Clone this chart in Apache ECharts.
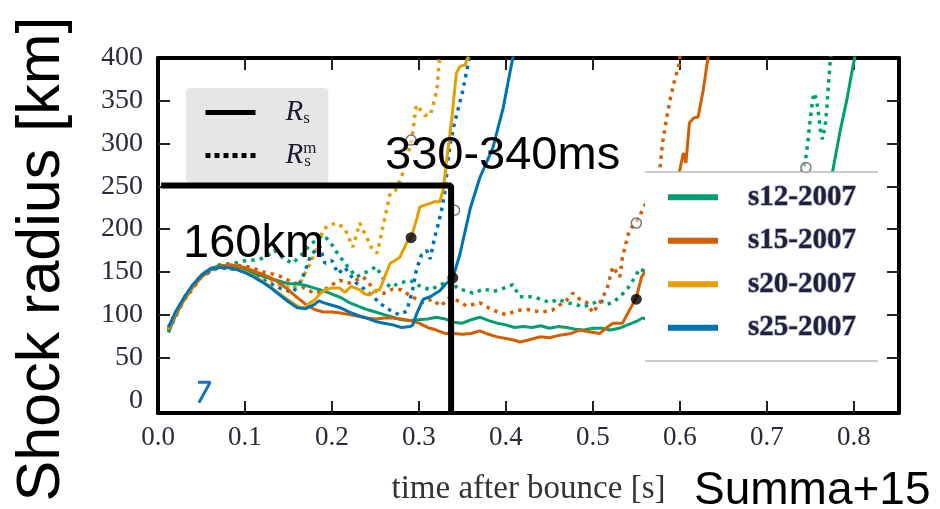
<!DOCTYPE html>
<html><head><meta charset="utf-8">
<script src="https://cdn.jsdelivr.net/npm/echarts@6/dist/echarts.min.js"></script>
<style>html,body{margin:0;padding:0;background:#fff}#c{width:940px;height:509px}</style>
</head><body><div id="c"></div>
<script>
// ---- data (time after bounce [s], shock radius [km]) ----
const xTickLabels = [0, 0.1, 0.2, 0.3, 0.4, 0.5, 0.6, 0.7, 0.8];
const xTickMarks = [0.1, 0.2, 0.3, 0.4, 0.5, 0.6, 0.7, 0.8];
const yTickLabels = [0, 50, 100, 150, 200, 250, 300, 350, 400];
const yTickMarks = [50, 100, 150, 200, 250, 300, 350];
const models = ['s12-2007', 's15-2007', 's20-2007', 's25-2007'];

const s12_Rs = [[0.012,79],[0.02,99],[0.03,118],[0.04,134],[0.05,146],[0.06,154],[0.07,157],[0.08,157],[0.09,155],[0.10,152],[0.11,148],[0.12,145],[0.13,142],[0.14,139],[0.15,136],[0.16,136],[0.17,134],[0.18,131],[0.19,128],[0.20,124],[0.21,120],[0.22,114],[0.23,110],[0.24,106],[0.25,103],[0.26,100],[0.27,97],[0.28,94],[0.29,93],[0.30,94],[0.31,95],[0.32,97],[0.33,95],[0.34,91],[0.35,90],[0.36,94],[0.37,97],[0.38,93],[0.39,90],[0.40,88],[0.41,85],[0.42,86],[0.43,85],[0.44,87],[0.45,84],[0.46,86],[0.47,85],[0.48,83],[0.49,82],[0.50,84],[0.51,84],[0.52,82],[0.53,84],[0.54,88],[0.55,92],[0.557,96],[0.565,94],[0.60,100],[0.65,115],[0.70,140],[0.74,190],[0.77,250],[0.776,269],[0.784,313],[0.792,351],[0.799,390],[0.803,410]];
const s15_Rs = [[0.012,82],[0.02,100],[0.03,117],[0.04,132],[0.05,144],[0.06,152],[0.07,156],[0.08,158],[0.09,157],[0.10,155],[0.11,151],[0.12,147],[0.13,143],[0.14,137],[0.15,129],[0.16,120],[0.17,112],[0.18,106],[0.19,103],[0.20,103],[0.21,102],[0.22,100],[0.23,98],[0.24,96],[0.25,95],[0.26,96],[0.27,96],[0.28,95],[0.29,93],[0.30,90],[0.31,85],[0.32,82],[0.33,78],[0.34,78],[0.35,77],[0.36,78],[0.37,81],[0.38,77],[0.39,74],[0.40,72],[0.41,70],[0.416,68],[0.425,70],[0.439,74],[0.45,73],[0.462,76],[0.475,78],[0.485,82],[0.495,80],[0.508,78],[0.515,84],[0.523,90],[0.534,90],[0.542,105],[0.55,120],[0.556,144],[0.56,150],[0.57,170],[0.58,200],[0.59,240],[0.597,262],[0.60,269],[0.604,289],[0.607,277],[0.611,324],[0.616,330],[0.621,331],[0.627,363],[0.632,398],[0.634,410]];
const s20_Rs = [[0.012,83],[0.02,102],[0.03,119],[0.04,134],[0.05,146],[0.06,153],[0.07,155],[0.08,155],[0.09,153],[0.10,150],[0.11,145],[0.12,139],[0.13,132],[0.14,124],[0.15,117],[0.16,110],[0.165,108],[0.17,109],[0.175,114],[0.18,117],[0.186,124],[0.192,129],[0.20,131],[0.209,131],[0.215,126],[0.222,133],[0.232,129],[0.238,124],[0.244,123],[0.25,128],[0.255,129],[0.259,140],[0.267,160],[0.272,163],[0.278,167],[0.286,184],[0.291,190],[0.297,210],[0.301,226],[0.307,228],[0.313,230],[0.318,232],[0.324,232],[0.328,246],[0.332,281],[0.338,331],[0.343,382],[0.347,390],[0.353,392],[0.356,400],[0.359,410]];
const s25_Rs = [[0.012,85],[0.02,103],[0.03,120],[0.04,135],[0.05,146],[0.06,153],[0.07,155],[0.08,155],[0.09,153],[0.10,149],[0.11,144],[0.12,138],[0.13,131],[0.14,123],[0.15,115],[0.16,108],[0.17,107],[0.18,112],[0.185,116],[0.19,114],[0.20,111],[0.21,108],[0.22,103],[0.23,99],[0.24,96],[0.25,92],[0.26,90],[0.27,88],[0.28,85],[0.29,86],[0.293,88],[0.297,100],[0.305,118],[0.313,121],[0.324,128],[0.33,135],[0.336,140],[0.339,143],[0.347,170],[0.359,224],[0.37,260],[0.385,295],[0.397,342],[0.405,385],[0.41,410]];

const s12_Rm = [[0.012,80],[0.03,119],[0.05,147],[0.07,158],[0.088,160],[0.10,163],[0.115,164],[0.125,168],[0.134,175],[0.145,165],[0.155,160],[0.165,170],[0.175,182],[0.19,193],[0.198,185],[0.206,172],[0.215,160],[0.228,144],[0.24,150],[0.251,156],[0.26,140],[0.267,132],[0.278,137],[0.29,140],[0.30,134],[0.313,129],[0.325,135],[0.336,140],[0.345,130],[0.355,128],[0.362,125],[0.375,130],[0.385,127],[0.393,129],[0.408,135],[0.416,121],[0.431,121],[0.44,118],[0.451,114],[0.46,118],[0.47,114],[0.48,112],[0.489,109],[0.50,113],[0.508,117],[0.515,112],[0.523,114],[0.53,120],[0.539,129],[0.546,140],[0.554,154],[0.56,150],[0.60,160],[0.65,180],[0.70,210],[0.73,245],[0.744,277],[0.747,300],[0.749,320],[0.752,345],[0.754,359],[0.757,352],[0.76,331],[0.762,312],[0.764,305],[0.767,320],[0.769,340],[0.771,370],[0.773,398],[0.775,410]];
const s15_Rm = [[0.012,82],[0.03,117],[0.05,144],[0.07,156],[0.08,158],[0.10,157],[0.11,154],[0.12,150],[0.13,148],[0.14,145],[0.15,140],[0.16,136],[0.17,130],[0.18,125],[0.19,128],[0.20,135],[0.209,140],[0.22,137],[0.236,144],[0.25,128],[0.26,125],[0.27,130],[0.28,129],[0.29,122],[0.305,114],[0.315,118],[0.325,110],[0.335,120],[0.343,117],[0.355,110],[0.37,114],[0.38,108],[0.393,102],[0.40,100],[0.413,105],[0.425,106],[0.44,103],[0.453,105],[0.47,117],[0.477,125],[0.485,118],[0.493,114],[0.50,102],[0.508,114],[0.516,129],[0.523,156],[0.531,144],[0.534,167],[0.539,187],[0.542,199],[0.55,208],[0.557,222],[0.56,228],[0.565,240],[0.572,255],[0.577,269],[0.58,300],[0.585,331],[0.589,352],[0.594,374],[0.599,392],[0.601,410]];
const s20_Rm = [[0.012,83],[0.03,119],[0.05,146],[0.07,155],[0.09,153],[0.10,152],[0.12,145],[0.14,135],[0.155,130],[0.165,140],[0.175,160],[0.183,178],[0.19,200],[0.198,205],[0.206,207],[0.215,200],[0.224,179],[0.232,207],[0.24,190],[0.247,175],[0.252,172],[0.258,200],[0.267,242],[0.273,245],[0.28,261],[0.286,281],[0.292,306],[0.297,345],[0.303,338],[0.307,333],[0.313,333],[0.318,351],[0.321,366],[0.323,392],[0.325,410]];
const s25_Rm = [[0.012,85],[0.03,120],[0.05,146],[0.07,155],[0.09,153],[0.10,150],[0.12,141],[0.14,131],[0.155,126],[0.165,140],[0.176,170],[0.186,180],[0.192,160],[0.20,163],[0.207,148],[0.215,155],[0.228,137],[0.237,130],[0.247,121],[0.257,112],[0.267,105],[0.277,100],[0.286,104],[0.293,130],[0.297,152],[0.303,170],[0.309,175],[0.313,165],[0.318,190],[0.322,205],[0.326,222],[0.33,245],[0.333,275],[0.336,300],[0.34,320],[0.345,340],[0.35,360],[0.353,375],[0.357,395],[0.36,410]];

const explosionRs = [[0.291,190],[0.339,143],[0.55,118]];
const explosionRm = [[0.291,304],[0.341,222],[0.55,207],[0.745,272]];
const fragment = [[0.046,21],[0.060,21],[0.047,-3]];
const annotation = [[0.007,251],[0.337,251],[0.337,-12]];

// ---- styling ----
const colors = {'s12-2007':'#009E73','s15-2007':'#D55E00','s20-2007':'#E69F00','s25-2007':'#0072B2'};
const serif = 'Liberation Serif', sans = 'Liberation Sans';
const solidData = {'s12-2007':s12_Rs,'s15-2007':s15_Rs,'s20-2007':s20_Rs,'s25-2007':s25_Rs};
const dotData = {'s12-2007':s12_Rm,'s15-2007':s15_Rm,'s20-2007':s20_Rm,'s25-2007':s25_Rm};

const series = [];
models.forEach(m => {
  series.push({name: m + ' m', type:'line', data: dotData[m], symbol:'none', z:2,
    lineStyle:{color:colors[m], width:3.5, type:[3.5,5]}, itemStyle:{color:colors[m]}, silent:true});
});
models.forEach(m => {
  series.push({name: m, type:'line', data: solidData[m], symbol:'none', z:3,
    lineStyle:{color:colors[m], width:3}, itemStyle:{color:colors[m]}, silent:true});
});
series.push({name:'R_s', type:'line', data:[], symbol:'none', lineStyle:{color:'#000', width:5}, itemStyle:{color:'#000'}});
series.push({name:'R_s^m', type:'line', data:[], symbol:'none', lineStyle:{color:'#000', width:5, type:[5,4]}, itemStyle:{color:'#000'}});
series.push({name:'fragment', type:'line', data:fragment, symbol:'none', z:3, lineStyle:{color:'#1a72b8', width:3}});
series.push({name:'explosion Rs', type:'scatter', data:explosionRs, symbol:'circle', symbolSize:11, z:5, itemStyle:{color:'#000'}});
series.push({name:'explosion Rm', type:'scatter', data:explosionRm, symbol:'circle', symbolSize:10, z:5, itemStyle:{color:'rgba(255,255,255,0.6)', borderColor:'#555', borderWidth:1.5}});
series.push({name:'annotation', type:'line', data:annotation, symbol:'none', z:6, lineStyle:{color:'#000', width:6, cap:'square'}});

const axisLine = {show:true, onZero:false, lineStyle:{color:'#000', width:4}};
const tick = (vals) => ({show:true, inside:true, length:12, customValues:vals, lineStyle:{color:'#222', width:2}});
const hiddenSymbol = {color:'rgba(0,0,0,0)', borderColor:'rgba(0,0,0,0)', borderWidth:0};

const option = {
  animation:false,
  grid:{left:158, right:41, top:58, bottom:96, containLabel:false, outerBoundsMode:'none'},
  xAxis:[
    {type:'value', position:'bottom', min:0, max:0.852, axisLine, axisTick:tick(xTickMarks), splitLine:{show:false},
     axisLabel:{customValues:xTickLabels, formatter:v=>v.toFixed(1), fontFamily:serif, fontSize:27, color:'#2a2a3a', margin:11},
     name:'time after bounce [s]', nameLocation:'middle', nameGap:60,
     nameTextStyle:{fontFamily:serif, fontSize:33, color:'#333'}},
    {type:'value', position:'top', min:0, max:0.852, axisLine, axisTick:tick(xTickMarks), splitLine:{show:false}, axisLabel:{show:false}}
  ],
  yAxis:[
    {type:'value', position:'left', min:-15, max:400, axisLine, axisTick:tick(yTickMarks), splitLine:{show:false},
     axisLabel:{customValues:yTickLabels, fontFamily:serif, fontSize:28, color:'#2a2a3a', margin:15}},
    {type:'value', position:'right', min:-15, max:400, axisLine, axisTick:tick(yTickMarks), splitLine:{show:false}, axisLabel:{show:false}}
  ],
  legend:[
    {data:['R_s','R_s^m'], orient:'vertical', left:186, top:88, padding:[10,12,12,17], itemGap:13,
     itemWidth:50, itemHeight:20, backgroundColor:'#e6e6e6', borderRadius:4, selectedMode:false,
     lineStyle:{width:5}, itemStyle:hiddenSymbol,
     formatter: n => n === 'R_s' ? '{sp| }{R|R}{s|s}' : '{sp| }{R|R}{m|m}{s|s}',
     textStyle:{rich:{
       sp:{width:25},
       R:{fontFamily:serif, fontStyle:'italic', fontSize:29, color:'#1a1a30', lineHeight:30},
       s:{fontFamily:serif, fontSize:17, color:'#1a1a30', verticalAlign:'bottom', lineHeight:30},
       m:{fontFamily:serif, fontSize:17, color:'#1a1a30', verticalAlign:'top', lineHeight:30, width:1}
     }}},
    {data:models, orient:'vertical', left:645, top:172, padding:[10,22,16,20], itemGap:13,
     itemWidth:50, itemHeight:20, backgroundColor:'#fff', selectedMode:false, lineStyle:{width:6},
     itemStyle:hiddenSymbol,
     formatter: n => '{sp| }{t|' + n + '}',
     textStyle:{rich:{
       sp:{width:25},
       t:{fontFamily:serif, fontSize:29, fontWeight:'bold', color:'#1e2040', textBorderColor:'rgba(150,150,165,0.8)', textBorderWidth:1.5, lineHeight:20}
     }}}
  ],
  graphic:[
    {type:'text', x:42, y:259, rotation:Math.PI/2, z:100, style:{text:'Shock radius [km]', fontFamily:sans, fontSize:61, fill:'#000', align:'center', verticalAlign:'middle'}},
    {type:'text', x:183, y:244, z:100, style:{text:'160km', fontFamily:sans, fontSize:47, fill:'#000', align:'left', verticalAlign:'middle'}},
    {type:'text', x:385, y:156, z:100, style:{text:'330-340ms', fontFamily:sans, fontSize:47, fill:'#000', align:'left', verticalAlign:'middle'}},
    {type:'text', x:694, y:491, z:100, style:{text:'Summa+15', fontFamily:sans, fontSize:46, fill:'#000', align:'left', verticalAlign:'middle'}},
    {type:'line', z:100, shape:{x1:645, y1:172, x2:878, y2:172}, style:{stroke:'#bbb', lineWidth:1.5}},
    {type:'line', z:100, shape:{x1:645, y1:361, x2:878, y2:361}, style:{stroke:'#bbb', lineWidth:1.5}}
  ],
  series
};
const chart = echarts.init(document.getElementById('c'));
chart.setOption(option);
</script></body></html>
